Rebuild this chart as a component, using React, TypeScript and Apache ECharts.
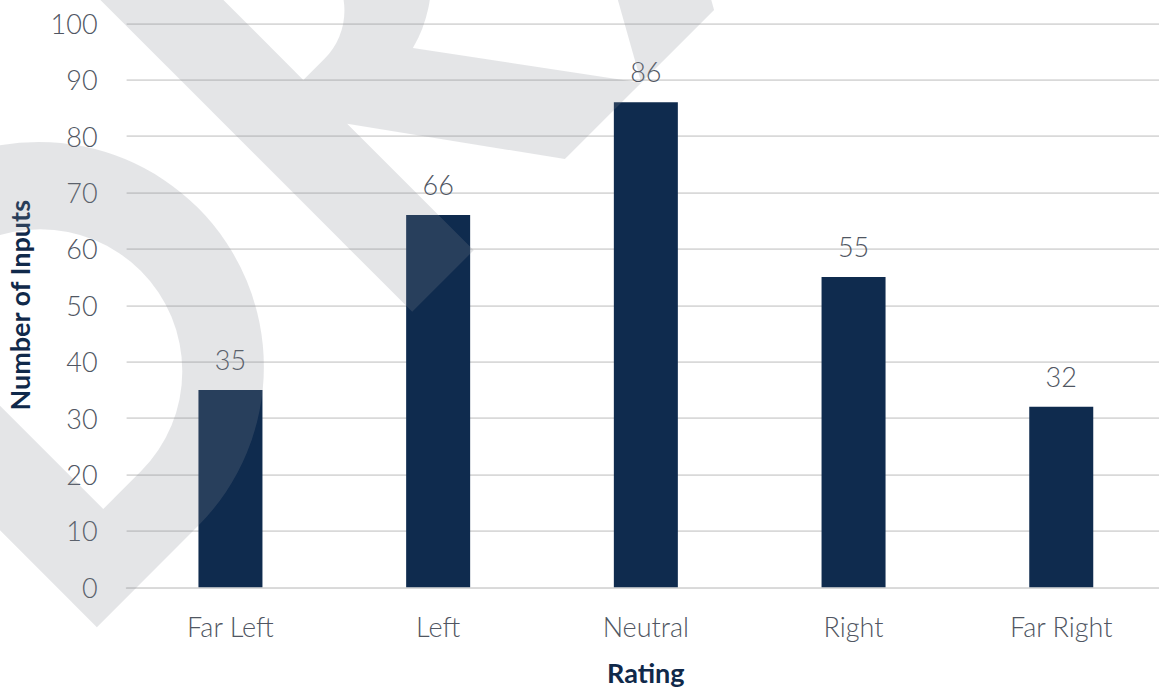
import React, { useEffect, useRef } from "react";
import * as echarts from "echarts";

// Chart data
const categories: string[] = ["Far Left", "Left", "Neutral", "Right", "Far Right"];
const inputCounts: number[] = [35, 66, 86, 55, 32];
const axisMin = 0;
const axisMax = 100;
const axisStep = 10;

const xAxisTitle = "Rating";
const yAxisTitle = "Number of Inputs";

const BAR_COLOR = "#0f2b4e";
const LABEL_COLOR = "#505662";
const TITLE_COLOR = "#10294a";
const GRID_COLOR = "#d9d9d9";
const FONT = "Lato, 'Noto Sans', sans-serif";

// Diagonal "DRAFT" watermark letters, drawn in a local frame
// (x along the baseline, y up negative) and rotated 45 degrees.
const watermarkPath = [
  // D outer
  "M -375 0 L -232 0 A 225 225 0 0 0 -7 -225 A 225 225 0 0 0 -232 -450 L -375 -450 Z",
  // D counter
  "M -287 -79 L -287 -363 L -234 -363 A 142 142 0 0 1 -92 -221 A 142 142 0 0 1 -234 -79 Z",
  // R outer
  "M 71 0 L 158 0 L 158 -179 L 287 0 L 395 0 L 258 -186 A 134 134 0 0 0 358 -313 A 134 134 0 0 0 224 -447 L 71 -447 Z",
  // R counter
  "M 158 -241 L 158 -377 L 188 -377 A 68 68 0 0 1 256 -309 A 68 68 0 0 1 188 -241 Z",
  // A left stroke
  "M 395 0 L 498 0 L 748 -447 L 645 -447 Z",
].join(" ");

echarts.graphic.registerShape(
  "draftMark",
  echarts.graphic.extendPath(watermarkPath, {}) as any
);

export default function App() {
  const ref = useRef<HTMLDivElement>(null);

  useEffect(() => {
    if (!ref.current) return;
    const chart = echarts.init(ref.current, null, { renderer: "svg" });

    chart.setOption({
      animation: false,
      backgroundColor: "#ffffff",
      grid: {
        left: 126.6,
        width: 1038.5,
        top: 23.3,
        height: 564,
        containLabel: false,
        outerBoundsMode: "none",
      },
      xAxis: {
        type: "category",
        data: categories,
        name: xAxisTitle,
        nameLocation: "middle",
        nameGap: 72,
        nameTextStyle: {
          fontFamily: FONT,
          fontSize: 27,
          fontWeight: "bold",
          color: TITLE_COLOR,
        },
        axisLine: { show: true, lineStyle: { color: GRID_COLOR, width: 1.75 } },
        axisTick: { show: false },
        axisLabel: {
          margin: 26,
          fontFamily: FONT,
          fontSize: 27,
          fontWeight: 300,
          color: LABEL_COLOR,
        },
      },
      yAxis: {
        type: "value",
        min: axisMin,
        max: axisMax,
        interval: axisStep,
        name: yAxisTitle,
        nameLocation: "middle",
        nameGap: 94,
        nameRotate: 90,
        nameTextStyle: {
          fontFamily: FONT,
          fontSize: 27,
          fontWeight: "bold",
          color: TITLE_COLOR,
        },
        axisLine: { show: false },
        axisTick: { show: false },
        splitLine: { show: true, lineStyle: { color: GRID_COLOR, width: 1.75 } },
        axisLabel: {
          margin: 29,
          fontFamily: FONT,
          fontSize: 27,
          fontWeight: 300,
          color: LABEL_COLOR,
        },
      },
      series: [
        {
          type: "bar",
          data: inputCounts,
          barWidth: 64,
          itemStyle: { color: BAR_COLOR },
          label: {
            show: true,
            position: "top",
            distance: 17,
            fontFamily: FONT,
            fontSize: 27,
            fontWeight: 300,
            color: LABEL_COLOR,
          },
        },
      ],
      graphic: [
        {
          type: "draftMark",
          x: 362,
          y: 362,
          rotation: Math.PI / 4,
          silent: true,
          z: 100,
          style: { fill: "#848992", opacity: 0.22 },
        },
      ],
    });

    return () => chart.dispose();
  }, []);

  return (
    <div
      ref={ref}
      style={{ position: "absolute", left: 0, top: 0, width: 1159, height: 691 }}
    />
  );
}
